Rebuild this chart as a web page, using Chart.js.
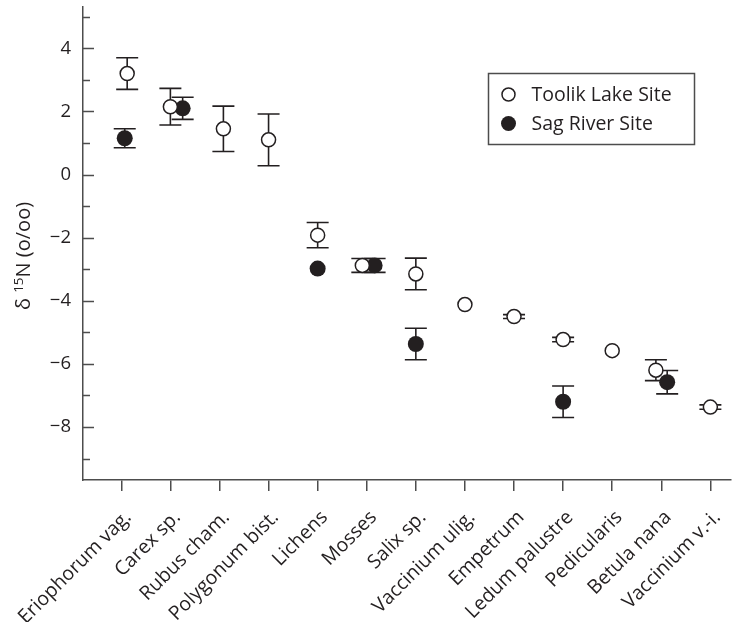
<!DOCTYPE html>
<html>
<head>
<meta charset="utf-8">
<script src="https://cdn.jsdelivr.net/npm/chart.js@4"></script>
<style>
  html, body { margin: 0; padding: 0; background: #fff; }
  #wrap { width: 732px; height: 622px; }
</style>
</head>
<body>
<div id="wrap"><canvas id="d15nChart" width="732" height="622"></canvas></div>
<script>
// Plant taxa along the x axis
const categories = ['Eriophorum vag.', 'Carex sp.', 'Rubus cham.', 'Polygonum bist.', 'Lichens', 'Mosses',
  'Salix sp.', 'Vaccinium ulig.', 'Empetrum', 'Ledum palustre', 'Pedicularis', 'Betula nana', 'Vaccinium v.-i.'];

// delta 15N means and error bar half-widths (o/oo); null = not sampled
const toolikMean = [3.2, 2.15, 1.45, 1.1, -1.92, -2.88, -3.15, -4.12, -4.5, -5.23, -5.58, -6.2, -7.37];
const toolikErr  = [0.5, 0.58, 0.72, 0.82, 0.4, 0.22, 0.5, 0, 0.06, 0.07, 0, 0.33, 0.07];
const sagMean = [1.15, 2.1, null, null, -2.98, -2.88, -5.37, null, null, -7.2, null, -6.58, null];
const sagErr  = [0.3, 0.35, null, null, 0, 0.22, 0.5, null, null, 0.5, null, 0.37, null];

// small horizontal dodge so overlapping site means stay visible
const toolikJitter = [0.12, 0, 0.08, 0, 0, -0.09, 0, 0, 0, 0, 0, -0.11, 0];
const sagJitter    = [0.07, 0.25, 0, 0, 0, 0.16, 0, 0, 0, 0, 0, 0.12, 0];

const yTicks = [-8, -6, -4, -2, 0, 2, 4];
const yMinorTicks = [-9, -7, -5, -3, -1, 1, 3, 5];

const INK = '#231f20';
const AXIS = '#4d4d4d';
const FONT = "'Open Sans', 'DejaVu Sans', sans-serif";

function toPoints(means, errs, jitter) {
  const pts = [];
  means.forEach((m, i) => {
    if (m === null) return;
    pts.push({ x: i + jitter[i], y: m, err: errs[i] || 0 });
  });
  return pts;
}

// vertical error bars with caps, drawn underneath the markers
const errorBars = {
  id: 'errorBars',
  beforeDatasetsDraw(chart) {
    const ctx = chart.ctx;
    const y = chart.scales.y;
    ctx.save();
    ctx.strokeStyle = INK;
    ctx.lineWidth = 1.6;
    chart.data.datasets.forEach((ds, d) => {
      const meta = chart.getDatasetMeta(d);
      ds.data.forEach((p, j) => {
        if (!p.err) return;
        const px = meta.data[j].x;
        const top = y.getPixelForValue(p.y + p.err);
        const bot = y.getPixelForValue(p.y - p.err);
        ctx.beginPath();
        ctx.moveTo(px, top); ctx.lineTo(px, bot);
        ctx.moveTo(px - 11, top); ctx.lineTo(px + 11, top);
        ctx.moveTo(px - 11, bot); ctx.lineTo(px + 11, bot);
        ctx.stroke();
      });
    });
    ctx.restore();
  }
};

// inward tick marks on the y axis (major + minor)
const yInnerTicks = {
  id: 'yInnerTicks',
  afterDraw(chart) {
    const ctx = chart.ctx;
    const y = chart.scales.y;
    const left = chart.chartArea.left;
    ctx.save();
    ctx.strokeStyle = AXIS;
    ctx.lineWidth = 1.5;
    ctx.beginPath();
    yTicks.forEach(v => {
      const py = Math.round(y.getPixelForValue(v)) + 0.5;
      ctx.moveTo(left, py); ctx.lineTo(left + 11, py);
    });
    yMinorTicks.forEach(v => {
      const py = Math.round(y.getPixelForValue(v)) + 0.5;
      ctx.moveTo(left, py); ctx.lineTo(left + 7, py);
    });
    ctx.stroke();
    ctx.restore();
  }
};

// rotated y title with superscript mass number
const yTitle = {
  id: 'yTitle',
  afterDraw(chart) {
    const ctx = chart.ctx;
    const parts = [
      { t: '\u03b4 ', size: 20, dy: 0 },
      { t: '15', size: 13.5, dy: -7 },
      { t: 'N (o/oo)', size: 20, dy: 0 }
    ];
    ctx.save();
    ctx.fillStyle = INK;
    ctx.textBaseline = 'alphabetic';
    let total = 0;
    parts.forEach(p => { ctx.font = p.size + 'px ' + FONT; p.w = ctx.measureText(p.t).width; total += p.w; });
    ctx.translate(30, 256);
    ctx.rotate(-Math.PI / 2);
    let x = -total / 2;
    parts.forEach(p => {
      ctx.font = p.size + 'px ' + FONT;
      ctx.fillText(p.t, x, p.dy);
      x += p.w;
    });
    ctx.restore();
  }
};

// boxed legend in the upper right of the plot
const boxLegend = {
  id: 'boxLegend',
  afterDraw(chart) {
    const ctx = chart.ctx;
    const bx = 488.5, by = 73.5, bw = 206, bh = 71;
    ctx.save();
    ctx.strokeStyle = AXIS;
    ctx.lineWidth = 1.5;
    ctx.strokeRect(bx, by, bw, bh);
    ctx.font = '19.5px ' + FONT;
    ctx.textBaseline = 'middle';
    chart.data.datasets.forEach((ds, k) => {
      const cy = by + 21 + k * 29;
      ctx.beginPath();
      ctx.arc(bx + 20, cy, ds.pointRadius - 0.5, 0, Math.PI * 2);
      ctx.fillStyle = ds.pointBackgroundColor;
      ctx.fill();
      if (ds.pointBorderWidth) {
        ctx.lineWidth = ds.pointBorderWidth;
        ctx.strokeStyle = INK;
        ctx.stroke();
      }
      ctx.fillStyle = INK;
      ctx.fillText(ds.label, bx + 43, cy + 1);
    });
    ctx.restore();
  }
};

new Chart(document.getElementById('d15nChart'), {
  type: 'scatter',
  data: {
    datasets: [
      {
        label: 'Toolik Lake Site',
        data: toPoints(toolikMean, toolikErr, toolikJitter),
        pointRadius: 7,
        pointHoverRadius: 7,
        pointBackgroundColor: '#ffffff',
        pointBorderColor: INK,
        pointBorderWidth: 1.5
      },
      {
        label: 'Sag River Site',
        data: toPoints(sagMean, sagErr, sagJitter),
        pointRadius: 8,
        pointHoverRadius: 8,
        pointBackgroundColor: INK,
        pointBorderColor: INK,
        pointBorderWidth: 0
      }
    ]
  },
  options: {
    responsive: false,
    animation: false,
    layout: { autoPadding: false, padding: { top: 7, right: 1, left: 0, bottom: 0 } },
    plugins: {
      legend: { display: false },
      tooltip: { enabled: false }
    },
    scales: {
      x: {
        type: 'linear',
        min: -0.78,
        max: 12.42,
        afterBuildTicks: s => { s.ticks = categories.map((c, i) => ({ value: i })); },
        afterFit: s => { s.height = 142; s.paddingLeft = 0; s.paddingRight = 0; },
        grid: { display: true, drawOnChartArea: false, drawTicks: true, tickLength: 11, color: AXIS, lineWidth: 1.5 },
        border: { display: true, color: AXIS, width: 1.5 },
        ticks: {
          autoSkip: false,
          minRotation: 45,
          maxRotation: 45,
          padding: 15,
          labelOffset: 7,
          color: INK,
          font: { family: FONT, size: 19.5 },
          callback: v => categories[v]
        }
      },
      y: {
        min: -9.68,
        max: 5.31,
        afterBuildTicks: s => { s.ticks = yTicks.map(v => ({ value: v })); },
        afterFit: s => { s.width = 83; s.paddingTop = 0; s.paddingBottom = 0; },
        grid: { display: false, drawTicks: false },
        border: { display: true, color: AXIS, width: 1.5 },
        ticks: {
          padding: 12,
          color: INK,
          font: { family: FONT, size: 18.5 },
          callback: v => (v < 0 ? '\u2212' + Math.abs(v) : String(v))
        }
      }
    }
  },
  plugins: [errorBars, yInnerTicks, yTitle, boxLegend]
});
</script>
</body>
</html>
